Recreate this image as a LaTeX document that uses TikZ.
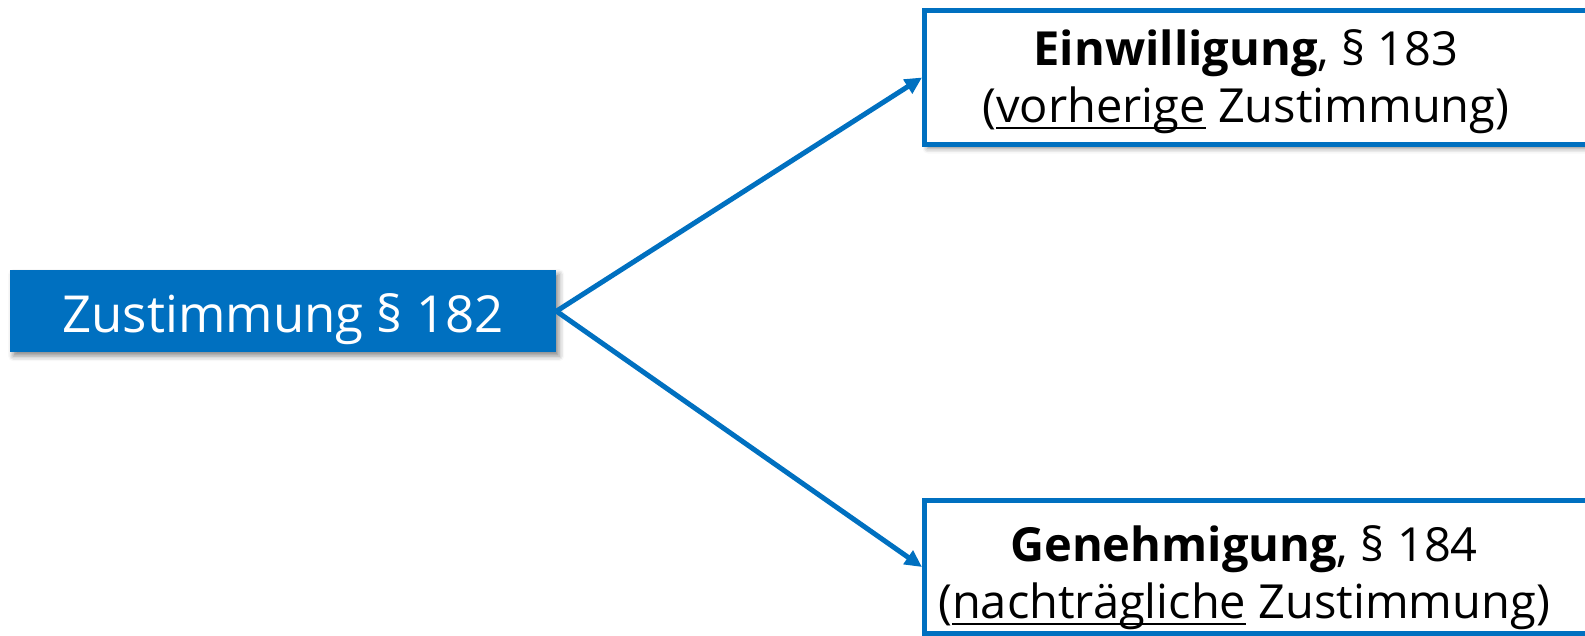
\documentclass[tikz,border=0pt]{standalone}
\usepackage{fontspec}
\setmainfont{Open Sans}
\usetikzlibrary{shadows.blur,arrows.meta}
\definecolor{mblue}{RGB}{0,112,192}
\newcommand{\myul}[1]{\leavevmode\setbox0\hbox{#1}\rlap{\rule[-6pt]{\wd0}{2pt}}\box0\relax}
\begin{document}
\begin{tikzpicture}[x=1pt,y=-1pt,
  sh/.style={blur shadow={shadow xshift=3pt,shadow yshift=-4pt,shadow blur radius=5pt,shadow opacity=45}},
  mainbox/.style={fill=mblue,inner sep=0pt,minimum width=546pt,minimum height=82pt,anchor=north west,sh},
  maintext/.style={text=white,inner sep=0pt,font=\fontsize{51}{60}\selectfont},
  outbox/.style={draw=mblue,line width=5pt,fill=white,inner sep=0pt,anchor=north west,minimum width=800pt,sh},
  boxtext/.style={align=center,font=\fontsize{47}{57}\selectfont,text=black},
  conn/.style={draw=mblue,line width=5pt,-{Triangle[length=17pt,width=16pt]}}]
\useasboundingbox (0,0) rectangle (1585,635);
\clip (0,0) rectangle (1585,635);
\node[mainbox] (z) at (10,270) {};
\node[maintext] (zt) at ([yshift=-8pt]z.center) {Zustimmung § 182};
\node[outbox,minimum height=134pt] (e) at (922,8) {};
\node[outbox,minimum height=133pt] (g) at (922,498) {};
\node[boxtext] (et) at (1246,82) {\textbf{Einwilligung}, § 183\\(\myul{vorherige} Zustimmung)};
\node[boxtext] (gt) at (1244,578) {\textbf{Genehmigung}, § 184\\(\myul{nachträgliche} Zustimmung)};
\draw[conn] (z.east) -- (e.west);
\draw[conn] (z.east) -- (g.west);
\end{tikzpicture}
\end{document}
